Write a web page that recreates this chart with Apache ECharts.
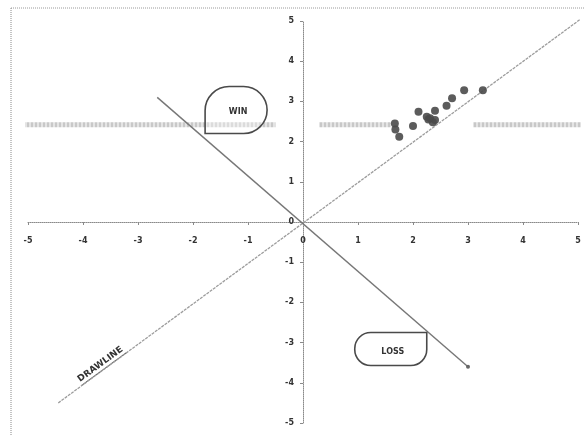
<!DOCTYPE html>
<html>
<head>
<meta charset="utf-8">
<script src="https://cdn.jsdelivr.net/npm/echarts@6/dist/echarts.min.js"></script>
<style>
  html, body { margin: 0; padding: 0; background: #fff; }
  #c { width: 584px; height: 436px; }
</style>
</head>
<body>
<div id="c"></div>
<script>
// Axis range and tick step (both axes run -5 .. 5)
const axisRange = [-5, 5];
const axisStep = 1;

// Reference lines
const drawLine = [[-4.45, -4.5], [5.1, 5.1]];
const winLossLine = [[-2.65, 3.1], [3.0, -3.6]];

// Horizontal shaded level and the pieces of it that are drawn
const bandLevel = 2.42;
const bandSegments = [[-5.1, -0.5], [0.3, 1.6], [3.1, 5.1]];

// Observed results
const resultsX = [2.93, 3.27, 2.71, 2.61, 2.10, 2.40, 2.31, 2.40, 2.25, 2.36, 2.00, 1.67, 1.68, 1.75, 2.28];
const resultsY = [3.28, 3.28, 3.08, 2.89, 2.74, 2.77, 2.58, 2.54, 2.62, 2.48, 2.39, 2.45, 2.30, 2.12, 2.55];

// Callout labels anchored at a point on the win/loss line
const calloutText = ['WIN', 'LOSS'];
const calloutAnchor = [[-1.78, 2.2], [2.25, -2.75]];

// Label along the draw line (anchored on the line itself)
const drawLabelText = 'DRAWLINE';
const drawLabelAnchor = [-3.62, -3.66];

const chart = echarts.init(document.getElementById('c'), null, { renderer: 'canvas' });

const font = "'DejaVu Sans', sans-serif";

function axisCommon() {
  return {
    type: 'value',
    min: axisRange[0],
    max: axisRange[1],
    interval: axisStep,
    splitLine: { show: false },
    axisLine: { onZero: false, lineStyle: { color: '#8a8a8a', type: 'dotted', width: 1 } },
    axisTick: { show: true, length: 3, lineStyle: { color: '#8a8a8a' } },
    axisLabel: { color: '#333', fontSize: 8, fontWeight: 'bold', fontFamily: font }
  };
}

const xAxis = axisCommon();
xAxis.position = 'bottom';
xAxis.axisLabel.margin = 15;
const yAxis = axisCommon();
yAxis.position = 'left';
yAxis.axisLabel.margin = 9;

const series = [];

bandSegments.forEach(function (seg) {
  series.push({
    type: 'line',
    data: [[seg[0], bandLevel], [seg[1], bandLevel]],
    showSymbol: false,
    silent: true,
    clip: false,
    lineStyle: { color: '#c8c8c8', width: 5, type: [3, 1] },
    z: 1
  });
});

series.push({
  type: 'line',
  data: drawLine,
  showSymbol: false,
  clip: false,
  lineStyle: { color: '#9c9c9c', width: 1.3, type: [3, 1] },
  z: 2
});

series.push({
  type: 'line',
  data: winLossLine.map(function (p, i) {
    return i === winLossLine.length - 1
      ? { value: p, symbol: 'circle', symbolSize: 4 }
      : { value: p, symbol: 'none' };
  }),
  showSymbol: true,
  clip: false,
  itemStyle: { color: '#666' },
  lineStyle: { color: '#777', width: 1.4 },
  z: 3
});

series.push({
  type: 'scatter',
  data: resultsX.map(function (x, i) { return [x, resultsY[i]]; }),
  symbolSize: 8,
  itemStyle: { color: '#4a4a4a', opacity: 0.9 },
  z: 4
});

const gridBox = { left: 28, right: 6, top: 21, bottom: 13 };

chart.setOption({
  animation: false,
  backgroundColor: '#fff',
  grid: Object.assign({ containLabel: false, outerBoundsMode: 'none' }, gridBox),
  xAxis: xAxis,
  yAxis: yAxis,
  series: series
});

const px = function (p) { return chart.convertToPixel({ gridIndex: 0 }, p); };

// Move both axes (line, ticks and labels) so they cross at the origin
const origin = px([0, 0]);
chart.setOption({
  xAxis: { offset: -((436 - gridBox.bottom) - origin[1]) },
  yAxis: { offset: -(origin[0] - gridBox.left) }
});

// Callouts and annotations are placed from data coordinates
const winCorner = px(calloutAnchor[0]);
const lossCorner = px(calloutAnchor[1]);
const drawPos = px(drawLabelAnchor);
const drawA = px(drawLine[0]);
const drawB = px(drawLine[1]);
const drawAngle = Math.atan2(drawA[1] - drawB[1], drawB[0] - drawA[0]);

const graphics = [
  // outer frame
  { type: 'line', shape: { x1: 11, y1: 8, x2: 584, y2: 8 }, style: { stroke: '#9a9a9a', lineWidth: 1, lineDash: [1, 1] } },
  { type: 'line', shape: { x1: 11, y1: 8, x2: 11, y2: 436 }, style: { stroke: '#8a8a8a', lineWidth: 1, lineDash: [1, 1] } },
  // WIN callout: sharp corner bottom-left
  {
    type: 'rect',
    shape: { x: winCorner[0], y: winCorner[1] - 47, width: 62, height: 47, r: [24, 24, 24, 0] },
    style: { fill: 'rgba(255,255,255,0.35)', stroke: '#4a4a4a', lineWidth: 1.6 },
    z: 10
  },
  {
    type: 'text',
    x: winCorner[0] + 33, y: winCorner[1] - 22,
    style: { text: calloutText[0], fill: '#333', font: "bold 8px " + font, align: 'center', verticalAlign: 'middle' },
    z: 11
  },
  // LOSS callout: sharp corner top-right
  {
    type: 'rect',
    shape: { x: lossCorner[0] - 72, y: lossCorner[1], width: 72, height: 33, r: [16, 0, 16, 16] },
    style: { fill: 'rgba(255,255,255,0.35)', stroke: '#4a4a4a', lineWidth: 1.6 },
    z: 10
  },
  {
    type: 'text',
    x: lossCorner[0] - 34, y: lossCorner[1] + 19,
    style: { text: calloutText[1], fill: '#333', font: "bold 8px " + font, align: 'center', verticalAlign: 'middle' },
    z: 11
  },
  // label lying along the draw line, underlined by the line
  {
    type: 'group',
    x: drawPos[0], y: drawPos[1],
    rotation: drawAngle,
    z: 11,
    children: [
      { type: 'text', x: 0, y: -6, style: { text: drawLabelText, fill: '#333', font: "bold 9px " + font, align: 'center', verticalAlign: 'middle' } },
      { type: 'line', shape: { x1: -28, y1: 0, x2: 28, y2: 0 }, style: { stroke: '#555', lineWidth: 1 } }
    ]
  }
];

chart.setOption({ graphic: graphics });
</script>
</body>
</html>
